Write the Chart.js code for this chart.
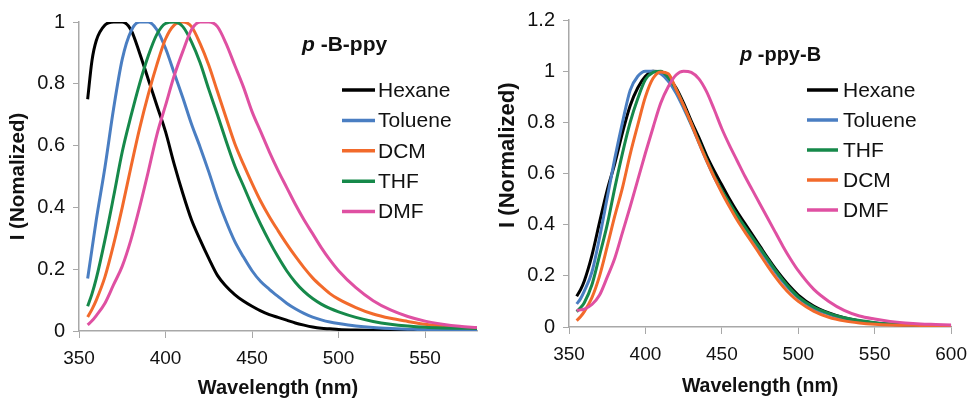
<!DOCTYPE html>
<html><head><meta charset="utf-8">
<script src="https://cdn.jsdelivr.net/npm/chart.js@4/dist/chart.umd.min.js"></script>
<style>
html,body{margin:0;padding:0;background:#fff;}
#wrap{position:relative;width:976px;height:400px;overflow:hidden;background:#fff;}
.panel{position:absolute;top:0;width:488px;height:400px;}
</style></head><body>
<div id="wrap">
<div class="panel" style="left:0"><canvas id="c1" width="488" height="400"></canvas></div>
<div class="panel" style="left:488px"><canvas id="c2" width="488" height="400"></canvas></div>
</div>
<script>
// ---------- Left panel: p-B-ppy ----------
const wlLeft = [355,357.5,360,365,370,375,380,385,390,395,400,405,410,415,420,425,430,435,440,445,450,455,460,465,470,475,480,485,490,495,500,510,520,530,540,550,560,570,580];
const leftHexane  = [0.75,0.875,0.94,0.99,1.0,1.0,0.975,0.90,0.815,0.73, 0.645,0.54,0.445,0.36,0.295,0.235,0.18,0.145,0.118,0.097,0.08, 0.065,0.053,0.044,0.035,0.026,0.019,0.013,0.009,0.007,0.005, 0.003,0.002,0.001,0.001,0.001,0.001,0.001,0.001];
const leftToluene = [0.17,0.265,0.36,0.53,0.72,0.88,0.97,1.0,1.0,0.975, 0.915,0.835,0.755,0.67,0.595,0.515,0.43,0.355,0.29,0.24,0.195, 0.16,0.135,0.112,0.09,0.072,0.057,0.045,0.036,0.029,0.024, 0.016,0.011,0.008,0.006,0.004,0.003,0.002,0.002];
const leftDCM     = [0.045,0.07,0.10,0.175,0.28,0.40,0.53,0.655,0.765,0.862, 0.945,0.99,1.0,0.985,0.93,0.86,0.775,0.69,0.607,0.54,0.478, 0.42,0.37,0.325,0.282,0.242,0.205,0.172,0.145,0.121,0.103, 0.076,0.055,0.041,0.031,0.022,0.016,0.012,0.009];
const leftTHF     = [0.08,0.12,0.17,0.295,0.435,0.58,0.695,0.80,0.89,0.96, 0.995,1.0,0.985,0.936,0.868,0.782,0.70,0.615,0.535,0.47,0.405, 0.345,0.29,0.24,0.195,0.158,0.128,0.105,0.087,0.073,0.062, 0.044,0.031,0.022,0.016,0.012,0.010,0.009,0.008];
const leftDMF     = [0.02,0.033,0.05,0.09,0.15,0.21,0.295,0.40,0.515,0.635, 0.73,0.826,0.905,0.975,1.0,1.0,0.985,0.93,0.86,0.79,0.71, 0.645,0.58,0.52,0.465,0.41,0.36,0.315,0.27,0.23,0.195, 0.14,0.098,0.068,0.047,0.032,0.022,0.015,0.011];
const leftLabels  = ['Hexane','Toluene','DCM','THF','DMF'];

// ---------- Right panel: p-ppy-B ----------
const wlRight = [355,357.5,360,365,370,375,380,385,390,395,400,405,410,415,420,425,430,435,440,445,450,455,460,465,470,475,480,485,490,495,500,510,520,530,540,550,560,570,580,590,600];
const rightHexane  = [0.12,0.145,0.18,0.28,0.41,0.535,0.64,0.76,0.865,0.935, 0.98,1.0,0.998,0.975,0.935,0.875,0.805,0.74,0.67,0.61,0.555, 0.50,0.45,0.405,0.36,0.315,0.27,0.228,0.19,0.155,0.125, 0.082,0.055,0.036,0.024,0.016,0.011,0.008,0.006,0.005,0.005];
const rightToluene = [0.09,0.11,0.14,0.215,0.35,0.505,0.66,0.80,0.925,0.98, 1.0,1.0,0.99,0.96,0.915,0.855,0.79,0.72,0.65,0.585,0.53, 0.478,0.43,0.385,0.343,0.30,0.257,0.215,0.177,0.143,0.114, 0.073,0.05,0.033,0.022,0.015,0.01,0.008,0.006,0.005,0.005];
const rightTHF     = [0.06,0.075,0.095,0.165,0.28,0.40,0.545,0.68,0.80,0.893, 0.967,0.995,1.0,0.975,0.93,0.865,0.795,0.725,0.655,0.59,0.535, 0.485,0.437,0.392,0.35,0.308,0.265,0.222,0.183,0.148,0.118, 0.078,0.053,0.036,0.025,0.017,0.012,0.009,0.007,0.006,0.005];
const rightDCM     = [0.025,0.04,0.06,0.115,0.20,0.315,0.435,0.545,0.675,0.79, 0.90,0.972,0.997,0.99,0.93,0.865,0.795,0.72,0.65,0.585,0.525, 0.47,0.418,0.372,0.328,0.283,0.238,0.196,0.158,0.126,0.10, 0.062,0.038,0.024,0.016,0.011,0.008,0.007,0.006,0.005,0.005];
const rightDMF     = [0.065,0.067,0.07,0.088,0.125,0.195,0.27,0.37,0.47,0.575, 0.68,0.78,0.875,0.94,0.985,1.0,0.995,0.97,0.92,0.85,0.775, 0.71,0.65,0.59,0.535,0.48,0.425,0.37,0.315,0.265,0.22, 0.148,0.10,0.065,0.043,0.031,0.022,0.016,0.012,0.01,0.008];
const rightLabels  = ['Hexane','Toluene','THF','DCM','DMF'];

const FAMILY = '"Liberation Sans", Arial, Helvetica, sans-serif';
Chart.defaults.font.family = FAMILY;
const COLORS = {Hexane:'#000000', Toluene:'#4a7ec2', DCM:'#f26a2b', THF:'#16894a', DMF:'#df50a2'};
const AXIS = '#a8a8a8';

function makeSets(wl, labels, series){
  return labels.map((lab, i) => ({
    label: lab,
    data: wl.map((x, j) => ({x: x, y: series[i][j]})),
    borderColor: COLORS[lab],
    backgroundColor: COLORS[lab],
    borderWidth: 3,
    pointRadius: 0,
    fill: false,
    cubicInterpolationMode: 'monotone',
    order: -i
  }));
}

const insideLegend = {
  id: 'insideLegend',
  afterDatasetsDraw(chart, args, o) {
    const ctx = chart.ctx;
    ctx.save();
    ctx.textBaseline = 'middle';
    ctx.textAlign = 'left';
    ctx.fillStyle = '#111';
    ctx.font = 'italic bold ' + o.titleSize + 'px ' + FAMILY;
    ctx.fillText(o.titleA, o.titleX, o.titleY);
    const w = ctx.measureText(o.titleA).width;
    ctx.font = 'bold ' + o.titleSize + 'px ' + FAMILY;
    ctx.fillText(o.titleB, o.titleX + w, o.titleY);
    ctx.font = o.fontSize + 'px ' + FAMILY;
    chart.data.datasets.forEach((ds, i) => {
      const y = o.y + i * o.rowH;
      ctx.strokeStyle = ds.borderColor;
      ctx.lineWidth = 3.5;
      ctx.beginPath();
      ctx.moveTo(o.x, y);
      ctx.lineTo(o.x + o.lineLen, y);
      ctx.stroke();
      ctx.fillStyle = '#111';
      ctx.fillText(ds.label, o.x + o.lineLen + o.gap, y + 1);
    });
    ctx.restore();
  }
};

function makeChart(id, cfg){
  return new Chart(document.getElementById(id), {
    type: 'line',
    data: {datasets: makeSets(cfg.wl, cfg.labels, cfg.series)},
    plugins: [insideLegend],
    options: {
      responsive: false,
      animation: false,
      events: [],
      layout: {padding: {top: cfg.padTop, right: cfg.padRight, left: 0, bottom: 0}},
      plugins: {
        legend: {display: false},
        tooltip: {enabled: false},
        insideLegend: cfg.legend
      },
      scales: {
        x: {
          type: 'linear', min: cfg.xmin, max: cfg.xmax,
          ticks: {stepSize: 50, includeBounds: false, color: '#111', padding: 9, font: {size: 19}, maxRotation: 0},
          grid: {drawOnChartArea: false, drawTicks: true, tickLength: 7, color: AXIS, lineWidth: 1},
          border: {display: true, color: AXIS, width: 1.5},
          title: {display: true, text: 'Wavelength (nm)', color: '#111', font: {size: cfg.xTitleSize, weight: 'bold'}, padding: {top: 0, bottom: cfg.xTitlePad}},
          afterFit(s){ s.height = cfg.xHeight; }
        },
        y: {
          type: 'linear', min: 0, max: cfg.ymax,
          ticks: {stepSize: 0.2, color: '#111', padding: 8, font: {size: cfg.yTickSize},
                  callback: v => String(Number(v.toFixed(2)))},
          grid: {drawOnChartArea: false, drawTicks: true, tickLength: 6, color: AXIS, lineWidth: 1},
          border: {display: true, color: AXIS, width: 1.5},
          title: {display: true, text: cfg.yTitle, color: '#111', font: {size: cfg.yTitleSize, weight: 'bold'}, padding: {top: cfg.yTitlePad, bottom: 0}},
          afterFit(s){ s.width = cfg.yWidth; }
        }
      }
    }
  });
}

makeChart('c1', {
  wl: wlLeft, labels: leftLabels,
  series: [leftHexane, leftToluene, leftDCM, leftTHF, leftDMF],
  xmin: 350, xmax: 580, ymax: 1,
  padTop: 22, padRight: 11, xHeight: 69, yWidth: 79,
  xTitleSize: 20, xTitlePad: 0, yTickSize: 20,
  yTitle: 'I (Nomalized)', yTitleSize: 20.5, yTitlePad: 6,
  legend: {titleA: 'p', titleB: ' -B-ppy', titleX: 302, titleY: 45, titleSize: 21,
           x: 342, y: 90, rowH: 30.4, lineLen: 33, gap: 3, fontSize: 21}
});

makeChart('c2', {
  wl: wlRight, labels: rightLabels,
  series: [rightHexane, rightToluene, rightTHF, rightDCM, rightDMF],
  xmin: 350, xmax: 600, ymax: 1.2,
  padTop: 19, padRight: 16, xHeight: 73, yWidth: 81,
  xTitleSize: 19.5, xTitlePad: 2, yTickSize: 20,
  yTitle: '      I (Normalized)', yTitleSize: 22, yTitlePad: 7,
  legend: {titleA: 'p', titleB: ' -ppy-B', titleX: 252, titleY: 55, titleSize: 20,
           x: 319, y: 90, rowH: 30, lineLen: 31, gap: 5, fontSize: 21}
});
</script>
</body></html>
